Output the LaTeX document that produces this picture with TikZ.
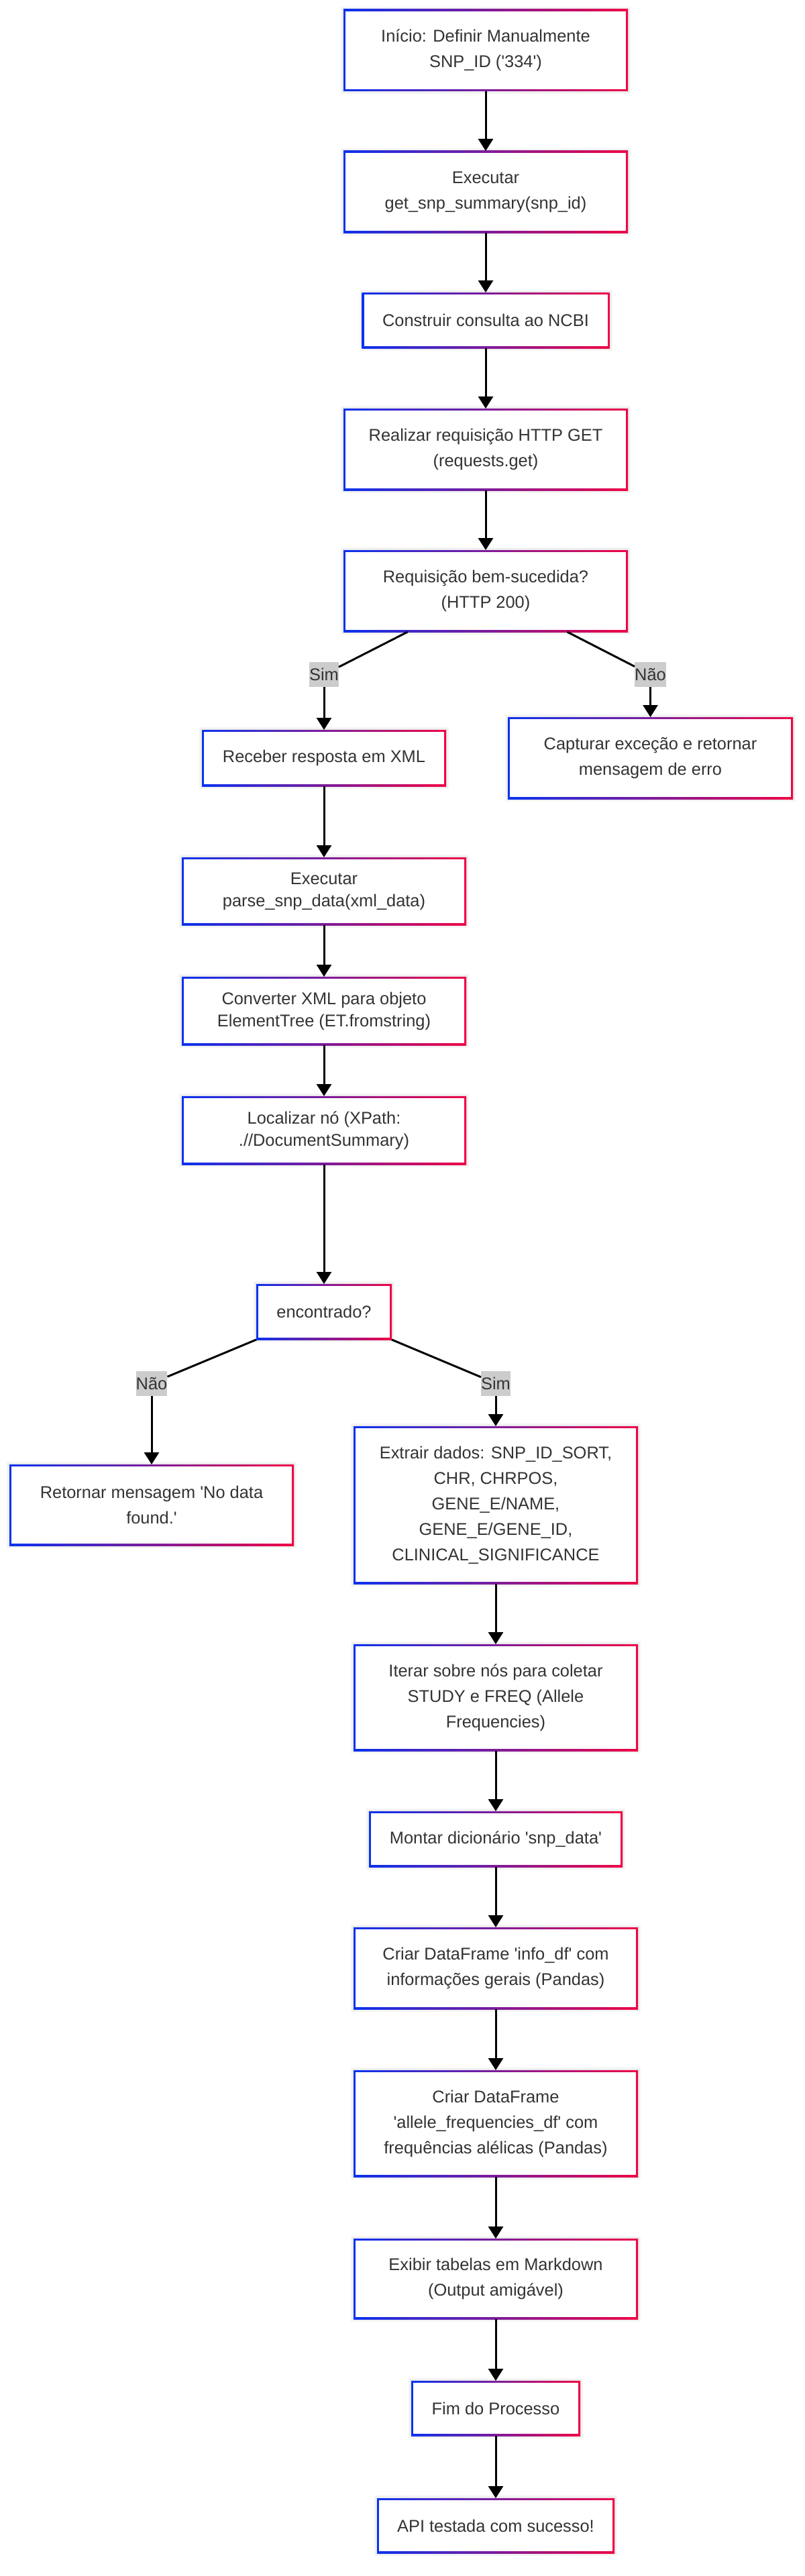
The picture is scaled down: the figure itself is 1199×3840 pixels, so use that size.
\documentclass[tikz,border=0pt]{standalone}
\usepackage{fontspec}
\setmainfont{Liberation Sans}
\usetikzlibrary{arrows.meta,backgrounds}
\definecolor{gblue}{RGB}{10,50,240}
\definecolor{gred}{RGB}{240,5,70}
\definecolor{txt}{RGB}{51,51,51}
\definecolor{lblgray}{RGB}{204,204,204}
\newcommand\sq{\textquotesingle}
\tikzset{
  box/.style={fill=white, draw=none, inner sep=0pt, outer sep=3pt, align=center, text=txt,
    font=\fontsize{25.4}{38}\selectfont},
  tight/.style={font=\fontsize{25.4}{33}\selectfont},
  lbl/.style={fill=lblgray, inner sep=0pt, minimum height=37pt, text=txt,
    font=\fontsize{25.4}{30}\selectfont},
  arr/.style={line width=3pt, -{Triangle[length=18pt,width=22pt]}},
  ln/.style={line width=3pt},
}
\begin{document}
\begin{tikzpicture}[x=1pt,y=-1pt]
\useasboundingbox (0,0) rectangle (1199,3840);
% main column
\node[box, minimum width=418pt, minimum height=116pt] (b1) at (724,75) {Início: Definir Manualmente\\SNP\_ID (\sq334\sq)};
\node[box, minimum width=418pt, minimum height=116pt] (b2) at (724,286) {Executar\\get\_snp\_summary(snp\_id)};
\node[box, minimum width=363pt, minimum height=77pt] (b3) at (724,477.5) {Construir consulta ao NCBI};
\node[box, minimum width=418pt, minimum height=116pt] (b4) at (724,670) {Realizar requisição HTTP GET\\(requests.get)};
\node[box, minimum width=418pt, minimum height=116pt] (b5) at (724,881) {Requisição bem-sucedida?\\(HTTP 200)};
% branch 1
\node[lbl] (L1) at (483,1005.5) {Sim};
\node[lbl] (L2) at (969.5,1005.5) {Não};
\node[box, minimum width=358pt, minimum height=78pt] (b6) at (483,1130) {Receber resposta em XML};
\node[box, minimum width=419pt, minimum height=116pt] (b7) at (969.5,1130) {Capturar exceção e retornar\\mensagem de erro};
\node[box, tight, minimum width=418pt, minimum height=95pt] (b8) at (483,1328.5) {Executar\\parse\_snp\_data(xml\_data)};
\node[box, tight, minimum width=418pt, minimum height=96pt] (b9) at (483,1507) {Converter XML para objeto\\ElementTree (ET.fromstring)};
\node[box, tight, minimum width=418pt, minimum height=96pt] (b10) at (483,1685) {Localizar nó (XPath:\\.//DocumentSummary)};
\node[box, minimum width=196pt, minimum height=77pt] (b11) at (483,1955.5) {encontrado?};
% branch 2
\node[lbl] (L3) at (226,2062) {Não};
\node[lbl] (L4) at (739,2062) {Sim};
\node[box, minimum width=418pt, minimum height=115pt] (b12) at (226,2243.5) {Retornar mensagem \sq No data\\found.\sq};
\node[box, minimum width=418pt, minimum height=229pt] (b13) at (739,2243.5) {Extrair dados: SNP\_ID\_SORT,\\CHR, CHRPOS,\\GENE\_E/NAME,\\GENE\_E/GENE\_ID,\\CLINICAL\_SIGNIFICANCE};
\node[box, minimum width=418pt, minimum height=153pt] (b14) at (739,2530.5) {Iterar sobre nós para coletar\\STUDY e FREQ (Allele\\Frequencies)};
\node[box, minimum width=372pt, minimum height=77pt] (b15) at (739,2741.5) {Montar dicionário \sq snp\_data\sq};
\node[box, minimum width=418pt, minimum height=116pt] (b16) at (739,2934) {Criar DataFrame \sq info\_df\sq{} com\\informações gerais (Pandas)};
\node[box, minimum width=418pt, minimum height=153pt] (b17) at (739,3165.5) {Criar DataFrame\\\sq allele\_frequencies\_df\sq{} com\\frequências alélicas (Pandas)};
\node[box, minimum width=418pt, minimum height=114pt] (b18) at (739,3397) {Exibir tabelas em Markdown\\(Output amigável)};
\node[box, minimum width=246pt, minimum height=76pt] (b19) at (739,3590) {Fim do Processo};
\node[box, minimum width=348pt, minimum height=76pt] (b20) at (739,3765) {API testada com sucesso!};
% gradient borders
\begin{pgfonlayer}{background}
\fill[white] (0,0) rectangle (1199,3840);
\foreach \n in {1,...,20}{
  \fill[black,opacity=0.04] ([shift={(-4pt,-4pt)}]b\n.south west) rectangle ([shift={(4pt,4pt)}]b\n.north east);
  \fill[black,opacity=0.04] ([shift={(-2pt,-2pt)}]b\n.south west) rectangle ([shift={(2pt,2pt)}]b\n.north east);
  \shade[left color=gblue, right color=gred] (b\n.south west) rectangle (b\n.north east);
}
\end{pgfonlayer}
% connectors
\draw[arr] (b1.south) -- (b2.north);
\draw[arr] (b2.south) -- (b3.north);
\draw[arr] (b3.south) -- (b4.north);
\draw[arr] (b4.south) -- (b5.north);
\draw[ln] ([xshift=-116.5pt]b5.south) -- (L1);
\draw[ln] ([xshift=121.6pt]b5.south) -- (L2);
\draw[arr] (L1.south) -- (b6.north);
\draw[arr] (L2.south) -- (b7.north);
\draw[arr] (b6.south) -- (b8.north);
\draw[arr] (b8.south) -- (b9.north);
\draw[arr] (b9.south) -- (b10.north);
\draw[arr] (b10.south) -- (b11.north);
\draw[ln] (b11.south west) -- (L3);
\draw[ln] (b11.south east) -- (L4);
\draw[arr] (L3.south) -- (b12.north);
\draw[arr] (L4.south) -- (b13.north);
\draw[arr] (b13.south) -- (b14.north);
\draw[arr] (b14.south) -- (b15.north);
\draw[arr] (b15.south) -- (b16.north);
\draw[arr] (b16.south) -- (b17.north);
\draw[arr] (b17.south) -- (b18.north);
\draw[arr] (b18.south) -- (b19.north);
\draw[arr] (b19.south) -- (b20.north);
\end{tikzpicture}
\end{document}
